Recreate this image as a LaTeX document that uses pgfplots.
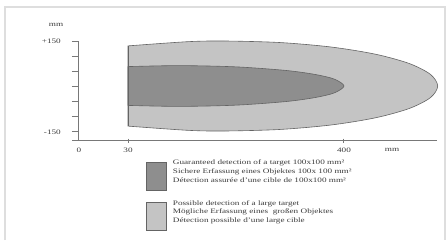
\documentclass[border=0pt]{standalone}
\usepackage{fontspec}
\setmainfont{Liberation Serif}[FakeStretch=1.35]
\usepackage{pgfplots}
\pgfplotsset{compat=1.18}
\definecolor{outerc}{RGB}{196,196,196}
\definecolor{innerc}{RGB}{142,142,142}
\definecolor{edgec}{RGB}{100,100,100}
\definecolor{axc}{RGB}{120,120,120}
\definecolor{txt}{RGB}{60,60,60}
\definecolor{framec}{RGB}{222,222,222}
\begin{document}
\begin{tikzpicture}[x=1bp,y=1bp]
\tikzset{lab/.style={font=\fontsize{6.8bp}{8.8bp}\selectfont, text=txt, inner sep=0pt}}
\useasboundingbox (0,0) rectangle (447,240);
\fill[white] (0,0) rectangle (447,240);
\draw[framec, line width=1.2bp] (5,0) -- (5,233) -- (445,233) -- (445,0);
\begin{axis}[at={(78.3bp,154bp)}, anchor=origin, x=1bp, y=0.3bp,
  xmin=-10, xmax=365, ymin=-220, ymax=215, axis lines=none, clip=false]
% outer lobe: possible detection of a large target
\addplot[fill=outerc, draw=edgec, line width=0.6bp, smooth] coordinates {
 (49.7,133.7) (109.4,147.7) (146.4,150) (201.5,144.9) (252.9,129.9) (297.0,106.1)
 (330.9,75) (352.1,38.8) (359.4,0) (352.1,-38.8) (330.9,-75) (297.0,-106.1)
 (252.9,-129.9) (201.5,-144.9) (146.4,-150) (109.4,-147.7) (49.7,-133.7)} -- cycle;
% inner lobe: guaranteed detection
\addplot[fill=innerc, draw=edgec, line width=0.6bp, smooth] coordinates {
 (49.7,64.7) (100.7,68) (157.1,63.9) (206.8,52.1) (235.9,39.0) (255.7,23.3)
 (265.7,0) (255.7,-23.3) (235.9,-39.0) (206.8,-52.1) (157.1,-63.9) (100.7,-68)
 (49.7,-64.7)} -- cycle;
\draw[edgec, line width=0.6bp] (axis cs:49.7,133.7) -- (axis cs:49.7,-133.7);
% axes
\draw[axc, line width=0.7bp] (axis cs:0,150) -- (axis cs:0,-182);
\draw[axc, line width=0.7bp] (axis cs:-6.3,-182) -- (axis cs:358.4,-182);
\draw[axc, line width=0.6bp] (axis cs:-6.5,150) -- (axis cs:0,150);
\draw[axc, line width=0.6bp] (axis cs:-6.5,100) -- (axis cs:0,100);
\draw[axc, line width=0.6bp] (axis cs:-6.5,50) -- (axis cs:0,50);
\draw[axc, line width=0.6bp] (axis cs:-6.5,0) -- (axis cs:0,0);
\draw[axc, line width=0.6bp] (axis cs:-6.5,-50) -- (axis cs:0,-50);
\draw[axc, line width=0.6bp] (axis cs:-6.5,-100) -- (axis cs:0,-100);
\draw[axc, line width=0.6bp] (axis cs:-6.5,-150) -- (axis cs:0,-150);
\draw[axc, line width=0.6bp] (axis cs:49.7,-175) -- (axis cs:49.7,-189);
\draw[axc, line width=0.6bp] (axis cs:265,-175) -- (axis cs:265,-189);
% tick labels
\node[lab, anchor=east] at (axis cs:-17.3,150) {+150};
\node[lab, anchor=east] at (axis cs:-17.3,-153) {-150};
\node[lab] at (axis cs:-22.3,205) {mm};
\node[lab] at (axis cs:0.7,-213) {0};
\node[lab] at (axis cs:49.7,-213) {30};
\node[lab] at (axis cs:265.7,-213) {400};
\node[lab] at (axis cs:313.7,-213) {mm};
\end{axis}
% legend
\draw[edgec, fill=innerc, line width=0.6bp] (146.5,49.5) rectangle (166,77.5);
\draw[edgec, fill=outerc, line width=0.6bp] (146.5,9.3) rectangle (166,37.3);
\node[lab, anchor=base west] at (172.7,75.8) {Guaranteed detection of a target 100x100 mm²};
\node[lab, anchor=base west] at (172.7,66.8) {Sichere Erfassung eines Objektes 100x 100 mm²};
\node[lab, anchor=base west] at (172.7,57.8) {Détection assurée d'une cible de 100x100 mm²};
\node[lab, anchor=base west] at (172.7,35.0) {Possible detection of a large target};
\node[lab, anchor=base west] at (172.7,26.4) {Mögliche Erfassung eines\ \ großen Objektes};
\node[lab, anchor=base west] at (172.7,17.7) {Détection possible d'une large cible};
\end{tikzpicture}
\end{document}
